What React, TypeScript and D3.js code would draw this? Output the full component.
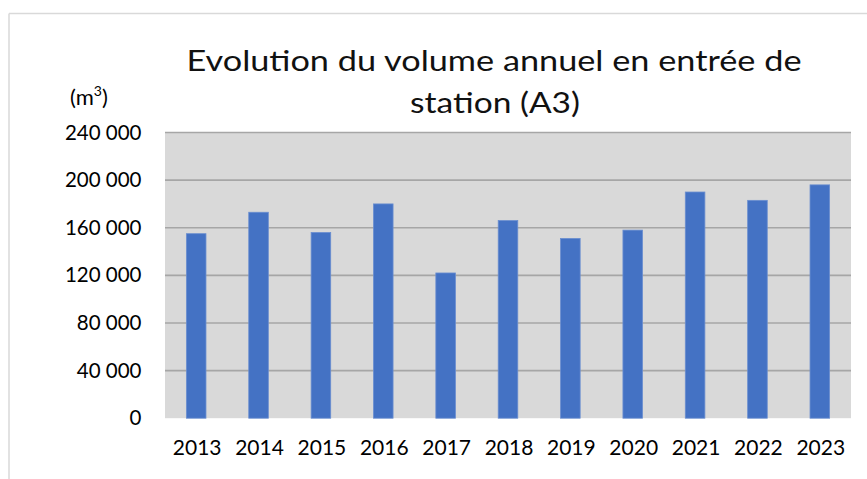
import React from "react";
import * as d3 from "d3";

const years = ["2013", "2014", "2015", "2016", "2017", "2018", "2019", "2020", "2021", "2022", "2023"];
const volumes = [155000, 173000, 156000, 180000, 122000, 166000, 151000, 158000, 190000, 183000, 196000];
const yTicks = [0, 40000, 80000, 120000, 160000, 200000, 240000];
const titleLines = ["Evolution du volume annuel en entrée de", "station (A3)"];

const W = 867;
const H = 479;
const plot = { left: 165, right: 851, top: 132.5, bottom: 418.2 };
const FONT = "Lato, 'Open Sans', sans-serif";

const fmt = (v: number) => {
  const s = d3.format(",")(v);
  return s.replace(/,/g, " ");
};

export default function App() {
  const x = d3.scaleBand<string>().domain(years).range([plot.left, plot.right]).paddingInner(0.686).paddingOuter(0.343);
  const y = d3.scaleLinear().domain([0, 240000]).range([plot.bottom, plot.top]);

  return (
    <svg width={W} height={H} style={{ position: "absolute", left: 0, top: 0, background: "#fff" }} fontFamily={FONT}>
      <rect x={0} y={0} width={W} height={H} fill="#fff" />
      {/* outer chart border */}
      <line x1={9} y1={13.5} x2={W} y2={13.5} stroke="#d9d9d9" strokeWidth={1.5} />
      <line x1={9} y1={13.5} x2={9} y2={H} stroke="#d9d9d9" strokeWidth={1.5} />

      {/* title */}
      <text x={494} y={71} textAnchor="middle" fontSize={29} fill="#111" textLength={615} lengthAdjust="spacingAndGlyphs">
        {titleLines[0]}
      </text>
      <text x={495} y={113} textAnchor="middle" fontSize={29} fill="#111" textLength={170} lengthAdjust="spacingAndGlyphs">
        {titleLines[1]}
      </text>

      {/* unit label */}
      <text x={70} y={105} fontSize={22} fill="#000">
        (m<tspan dy={-9} fontSize={14}>3</tspan><tspan dy={9}>)</tspan>
      </text>

      {/* plot area */}
      <rect x={plot.left} y={plot.top} width={plot.right - plot.left} height={plot.bottom - plot.top} fill="#d9d9d9" />
      {yTicks.filter((t) => t > 0).map((t) => (
        <line key={t} x1={plot.left} x2={plot.right} y1={y(t)} y2={y(t)} stroke="#a6a6a6" strokeWidth={1.6} />
      ))}

      {/* bars */}
      {years.map((yr, i) => (
        <rect
          key={yr}
          x={x(yr)!}
          y={y(volumes[i])}
          width={x.bandwidth()}
          height={y(0) - y(volumes[i])}
          fill="#4472c4"
          stroke="#6a8ed0"
          strokeWidth={0.8}
        />
      ))}

      {/* y tick labels */}
      {yTicks.map((t) => (
        <text key={t} x={141.5} y={y(t) + 7} textAnchor="end" fontSize={20.5} fill="#000">
          {fmt(t)}
        </text>
      ))}

      {/* x tick labels */}
      {years.map((yr) => (
        <text key={yr} x={x(yr)! + x.bandwidth() / 2 + 1} y={455} textAnchor="middle" fontSize={21} fill="#000">
          {yr}
        </text>
      ))}
    </svg>
  );
}
